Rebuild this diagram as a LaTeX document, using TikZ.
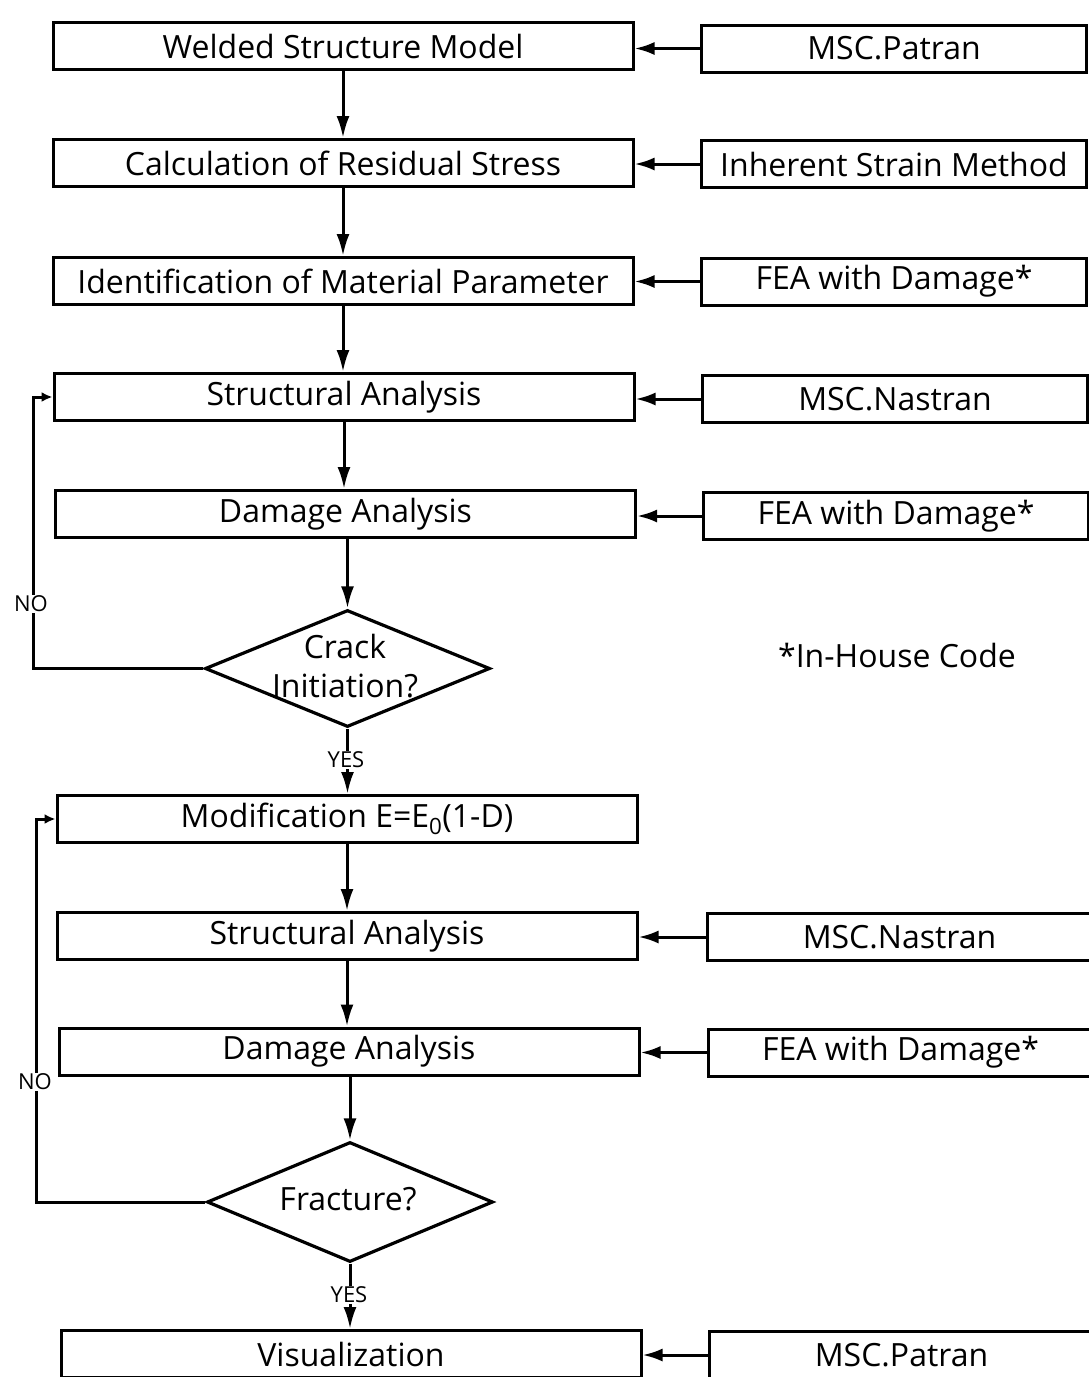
\documentclass[tikz,border=0pt]{standalone}
\usepackage{fontspec}
\setmainfont{Open Sans}
\usetikzlibrary{arrows.meta,shapes.geometric}
\begin{document}
\begin{tikzpicture}[x=1pt,y=-1pt,
  box/.style={draw, line width=3pt, minimum height=47pt, inner sep=0pt, font=\fontsize{32}{36}\selectfont},
  lbox/.style={box, minimum width=580pt},
  rbox/.style={box, minimum width=385pt},
  dia/.style={draw, line width=3.2pt, diamond, inner sep=0pt},
  txt/.style={inner sep=0pt, font=\fontsize{32}{36}\selectfont},
  lab/.style={fill=white, inner sep=1pt, font=\fontsize{22}{25}\selectfont},
  conn/.style={line width=3pt, -{Latex[length=22pt,width=13pt]}},
  feed/.style={line width=3pt, -{Latex[length=20pt,width=13pt]}},
  back/.style={line width=3pt, -{Latex[length=11pt,width=10pt]}}]
\useasboundingbox (0,0) rectangle (1089,1377);
% left column
\node[lbox] (L1) at (343,46) {Welded Structure Model};
\node[lbox] (L2) at (343,163) {Calculation of Residual Stress};
\node[lbox] (L3) at (343,281) {Identification of Material Parameter};
\node[lbox] (L4) at (344,397) {Structural Analysis};
\node[lbox] (L5) at (345.5,514) {Damage Analysis};
\node[lbox] (L6) at (347,819) {Modification E=E\textsubscript{0}(1-D)};
\node[lbox] (L7) at (347,936) {Structural Analysis};
\node[lbox] (L8) at (349,1051.5) {Damage Analysis};
\node[lbox] (L9) at (351,1354) {Visualization};
% diamonds
\node[dia, minimum width=285pt, minimum height=117pt] (D1) at (347.5,668.5) {};
\node[txt] (D1a) at (345,646) {Crack};
\node[txt] (D1b) at (345,686) {Initiation?};
\node[dia, minimum width=286pt, minimum height=120pt] (D2) at (350,1202) {};
\node[txt] (D2a) at (348,1199) {Fracture?};
% right column
\node[rbox] (R1) at (894,48.5) {MSC.Patran};
\node[rbox] (R2) at (894,164) {Inherent Strain Method};
\node[rbox] (R3) at (894,281.5) {FEA with Damage*};
\node[rbox] (R4) at (895,399) {MSC.Nastran};
\node[rbox] (R5) at (896,516) {FEA with Damage*};
\node[rbox] (R6) at (899.5,937) {MSC.Nastran};
\node[rbox] (R7) at (900.5,1052.5) {FEA with Damage*};
\node[rbox] (R8) at (901.5,1355) {MSC.Patran};
\node[txt] (note) at (897,655) {*In-House Code};
% feeds
\foreach \r/\l in {R1/L1,R2/L2,R3/L3,R4/L4,R5/L5,R6/L7,R7/L8,R8/L9}
  \draw[feed] (\r.west) -- (\r.west -| \l.east);
% main flow
\draw[conn] (L1.south) -- (L1.south |- L2.north);
\draw[conn] (L2.south) -- (L2.south |- L3.north);
\draw[conn] (L3.south) -- (L3.south |- L4.north);
\draw[conn] (L4.south) -- (L4.south |- L5.north);
\draw[conn] (L5.south -| D1.north) -- (D1.north);
\draw[conn] (D1.south) -- (D1.south |- L6.north);
\node[lab] (yes1) at (346,760) {YES};
\draw[conn] (L6.south) -- (L6.south |- L7.north);
\draw[conn] (L7.south) -- (L7.south |- L8.north);
\draw[conn] (L8.south -| D2.north) -- (D2.north);
\draw[conn] (D2.south) -- (D2.south |- L9.north);
\node[lab] (yes2) at (349,1295) {YES};
% loops
\coordinate (c1) at (33,668.5);
\draw[back] (D1.west) -- (c1) |- (L4.west);
\node[lab] (no1) at (31,604) {NO};
\coordinate (c2) at (36,1202);
\draw[back] (D2.west) -- (c2) |- (L6.west);
\node[lab] (no2) at (35,1082) {NO};
\end{tikzpicture}
\end{document}
